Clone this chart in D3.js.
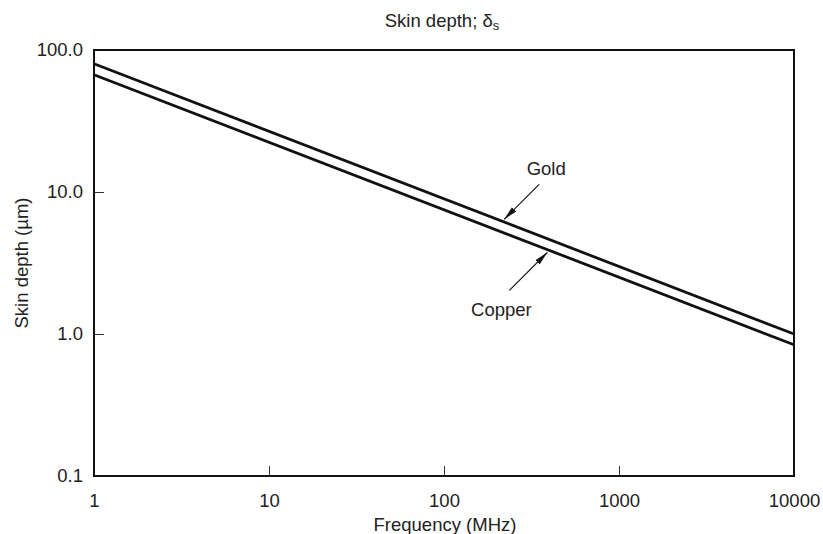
<!DOCTYPE html>
<html>
<head>
<meta charset="utf-8">
<script src="https://cdn.jsdelivr.net/npm/d3@7"></script>
<style>
  body { margin: 0; background: #fff; }
  text { font-family: "Liberation Sans", Arial, sans-serif; fill: #222; }
</style>
</head>
<body>
<div id="chart"></div>
<script>
// Tick values / labels
const xTicks = [1, 10, 100, 1000, 10000];
const xTickLabels = ["1", "10", "100", "1000", "10000"];
const yTicks = [0.1, 1, 10, 100];
const yTickLabels = ["0.1", "1.0", "10.0", "100.0"];

// Series (frequency MHz, skin depth um) - straight on log-log
const goldFreq = [1, 10000];
const goldDepth = [80, 1.0];
const copperFreq = [1, 10000];
const copperDepth = [67, 0.84];

const fontSize = "18.5px";
const width = 823, height = 534;
const margin = { top: 50, right: 29, bottom: 58, left: 94 };
const w = width - margin.left - margin.right,
  h = height - margin.top - margin.bottom;

const x = d3.scaleLog().domain([1, 10000]).range([0, w]);
const y = d3.scaleLog().domain([0.1, 100]).range([h, 0]);

const svg = d3.select("#chart").append("svg")
  .attr("width", width)
  .attr("height", height);

const g = svg.append("g")
  .attr("transform", "translate(" + margin.left + "," + margin.top + ")");

// title
svg.append("text")
  .attr("x", 442)
  .attr("y", 27)
  .attr("text-anchor", "middle")
  .style("font-size", fontSize)
  .html('Skin depth; δ<tspan dy="3" font-size="13px">s</tspan>');

// x axis: ticks pointing inward
const xAxis = d3.axisBottom(x)
  .tickValues(xTicks)
  .tickFormat((d, i) => xTickLabels[i])
  .tickSizeInner(-10)
  .tickSizeOuter(0)
  .tickPadding(18);

g.append("g")
  .attr("transform", "translate(0," + h + ")")
  .call(xAxis)
  .call(s => s.select(".domain").remove())
  .call(s => s.selectAll("text").style("font-size", fontSize).attr("fill", "#222"))
  .call(s => s.selectAll("line").attr("stroke", "#333"));

const yAxis = d3.axisLeft(y)
  .tickValues(yTicks)
  .tickFormat((d, i) => yTickLabels[i])
  .tickSizeInner(-10)
  .tickSizeOuter(0)
  .tickPadding(11);

g.append("g")
  .call(yAxis)
  .call(s => s.select(".domain").remove())
  .call(s => s.selectAll("text").style("font-size", fontSize).attr("fill", "#222"))
  .call(s => s.selectAll("line").attr("stroke", "#333"));

// frame
g.append("rect")
  .attr("width", w)
  .attr("height", h)
  .attr("fill", "none")
  .attr("stroke", "#111")
  .attr("stroke-width", 2);

// axis labels
svg.append("text")
  .attr("x", 445)
  .attr("y", 531)
  .attr("text-anchor", "middle")
  .style("font-size", fontSize)
  .text("Frequency (MHz)");

svg.append("text")
  .attr("transform", "translate(28," + (margin.top + h / 2) + ") rotate(-90)")
  .attr("text-anchor", "middle")
  .style("font-size", fontSize)
  .text("Skin depth (\u00b5m)");

// lines
const line = d3.line()
  .x(d => x(d[0]))
  .y(d => y(d[1]));

const series = [
  d3.zip(goldFreq, goldDepth),
  d3.zip(copperFreq, copperDepth)
];

g.selectAll(".series")
  .data(series)
  .enter().append("path")
  .attr("class", "series")
  .attr("d", line)
  .attr("fill", "none")
  .attr("stroke", "#111")
  .attr("stroke-width", 2.8);

// annotation arrows
svg.append("defs").append("marker")
  .attr("id", "arrow")
  .attr("viewBox", "0 0 14 8")
  .attr("refX", 14)
  .attr("refY", 4)
  .attr("markerUnits", "userSpaceOnUse")
  .attr("markerWidth", 14)
  .attr("markerHeight", 8)
  .attr("orient", "auto")
  .append("path")
  .attr("d", "M0,1 L14,4 L0,7 Z")
  .attr("fill", "#111");

function depthAt(f, d) {
  return Math.pow(10, Math.log10(d[0]) +
    (Math.log10(d[1]) - Math.log10(d[0])) * Math.log10(f) / 4);
}

// Gold label: arrow points down-left onto the gold line
const goldAt = 215;
const gx = x(goldAt) + margin.left, gy = y(depthAt(goldAt, goldDepth)) + margin.top;
svg.append("line")
  .attr("x1", gx + 37).attr("y1", gy - 37)
  .attr("x2", gx + 2).attr("y2", gy - 2)
  .attr("stroke", "#111").attr("stroke-width", 1.2)
  .attr("marker-end", "url(#arrow)");
svg.append("text")
  .attr("x", gx + 44).attr("y", gy - 46)
  .attr("text-anchor", "middle")
  .style("font-size", fontSize)
  .text("Gold");

// Copper label: arrow points up-right onto the copper line
const copAt = 400;
const cx = x(copAt) + margin.left, cy = y(depthAt(copAt, copperDepth)) + margin.top;
svg.append("line")
  .attr("x1", cx - 40).attr("y1", cy + 40)
  .attr("x2", cx - 2).attr("y2", cy + 2)
  .attr("stroke", "#111").attr("stroke-width", 1.2)
  .attr("marker-end", "url(#arrow)");
svg.append("text")
  .attr("x", cx - 48).attr("y", cy + 66)
  .attr("text-anchor", "middle")
  .style("font-size", fontSize)
  .text("Copper");
</script>
</body>
</html>
